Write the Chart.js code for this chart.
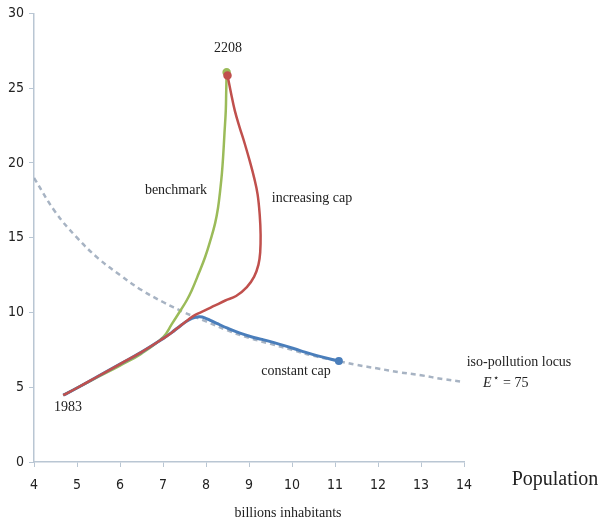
<!DOCTYPE html>
<html>
<head>
<meta charset="utf-8">
<script src="https://cdn.jsdelivr.net/npm/chart.js@4"></script>
<style>
  html, body { margin: 0; padding: 0; background: #fff; }
  #wrap { width: 603px; height: 521px; position: relative; }
</style>
</head>
<body>
<div id="wrap"><canvas id="grafica"></canvas></div>
<script>
// population (billions) on x, values on y
const benchX = [4.68, 5.0, 5.5, 6.0, 6.5, 7.01, 7.2, 7.41, 7.55, 7.67, 7.83, 7.98, 8.1, 8.21, 8.28, 8.33, 8.37, 8.4, 8.43, 8.46, 8.47, 8.48];
const benchY = [4.47, 4.95, 5.7, 6.45, 7.25, 8.37, 9.2, 10.15, 10.8, 11.49, 12.6, 13.71, 14.8, 15.94, 17.0, 18.17, 19.3, 20.5, 22.0, 23.5, 24.8, 26.07];

const incX = [4.68, 5.0, 5.5, 6.0, 6.5, 7.0, 7.2, 7.4, 7.58, 7.74, 7.95, 8.2, 8.45, 8.7, 8.95, 9.12, 9.22, 9.26, 9.27, 9.25, 9.2, 9.12, 9.02, 8.9, 8.78, 8.67, 8.58, 8.5];
const incY = [4.47, 4.95, 5.75, 6.55, 7.35, 8.25, 8.65, 9.1, 9.5, 9.82, 10.1, 10.45, 10.8, 11.1, 11.7, 12.4, 13.2, 14.0, 15.2, 16.5, 17.9, 19.0, 20.1, 21.3, 22.4, 23.5, 24.7, 25.85];

const constX = [4.68, 5.0, 5.5, 6.0, 6.5, 7.0, 7.2, 7.4, 7.6, 7.75, 7.86, 7.97, 8.1, 8.25, 8.5, 8.79, 9.05, 9.3, 9.8, 10.19, 10.6, 11.09];
const constY = [4.47, 4.95, 5.75, 6.55, 7.35, 8.25, 8.65, 9.1, 9.5, 9.68, 9.71, 9.64, 9.47, 9.27, 8.95, 8.62, 8.38, 8.2, 7.8, 7.45, 7.1, 6.75];

// iso-pollution locus E* = 75
const isoX = [4, 4.5, 5, 5.5, 6, 6.5, 7, 7.5, 8, 8.5, 9, 9.5, 10, 10.5, 11, 11.5, 12, 12.5, 13, 13.5, 14];
const isoY = [19, 16.7, 15, 13.6, 12.5, 11.5, 10.7, 10, 9.4, 8.8, 8.3, 7.9, 7.5, 7.1, 6.8, 6.5, 6.25, 6, 5.8, 5.55, 5.35];

const xTicks = [4, 5, 6, 7, 8, 9, 10, 11, 12, 13, 14];
const yTicks = [0, 5, 10, 15, 20, 25, 30];

const pts = (xs, ys) => xs.map((x, i) => ({ x: x, y: ys[i] }));
const endDot = r => ctx => ctx.dataIndex === ctx.dataset.data.length - 1 ? r : 0;

const serif = '"Liberation Serif", "DejaVu Serif", serif';
const tickFont = { family: '"DejaVu Sans Condensed", "Liberation Sans Narrow", sans-serif', size: 14 };

const etiquetas = {
  id: 'etiquetas',
  afterDraw(chart) {
    const c = chart.ctx;
    c.save();
    c.fillStyle = '#222';
    c.textAlign = 'center';
    c.textBaseline = 'middle';
    c.font = '14px ' + serif;
    c.fillText('2208', 228, 48);
    c.fillText('benchmark', 176, 190);
    c.fillText('increasing cap', 312, 198);
    c.fillText('constant cap', 296, 371);
    c.fillText('1983', 68, 407);
    c.fillText('iso-pollution locus', 519, 362);
    c.fillText('billions inhabitants', 288, 513);
    // E* = 75
    c.textAlign = 'left';
    c.font = 'italic 14px ' + serif;
    c.fillText('E', 483, 383);
    c.font = '10px ' + serif;
    c.fillText('\u22C6', 493, 378);
    c.font = '14px ' + serif;
    c.fillText('= 75', 503, 383);
    c.textAlign = 'center';
    c.font = '20px ' + serif;
    c.fillText('Population', 555, 480);
    c.restore();
  }
};

new Chart(document.querySelector('#grafica'), {
  type: 'scatter',
  data: {
    datasets: [
      {
        label: 'increasing cap', data: pts(incX, incY), showLine: true, tension: 0.4,
        borderColor: '#c0504d', backgroundColor: '#c0504d', borderWidth: 2.5,
        pointRadius: endDot(3), pointHoverRadius: 0, order: 1
      },
      {
        label: 'constant cap', data: pts(constX, constY), showLine: true, tension: 0.4,
        borderColor: '#4a7ebb', backgroundColor: '#4a7ebb', borderWidth: 3,
        pointRadius: endDot(2.5), pointHoverRadius: 0, order: 2
      },
      {
        label: 'benchmark', data: pts(benchX, benchY), showLine: true, tension: 0.4,
        borderColor: '#9bbb59', backgroundColor: '#9bbb59', borderWidth: 2.5,
        pointRadius: endDot(3), pointHoverRadius: 0, order: 3
      },
      {
        label: 'iso-pollution locus', data: pts(isoX, isoY), showLine: true, tension: 0.4,
        borderColor: 'rgba(145,160,180,0.8)', borderWidth: 2.5, borderDash: [5, 4],
        pointRadius: 0, order: 4
      }
    ]
  },
  options: {
    responsive: true,
    maintainAspectRatio: false,
    animation: false,
    layout: { padding: { top: 13, right: 139, bottom: 0, left: 0 } },
    plugins: { legend: { display: false }, tooltip: { enabled: false } },
    scales: {
      x: {
        type: 'linear', min: 4, max: 14,
        afterBuildTicks: s => { s.ticks = xTicks.map(v => ({ value: v })); },
        afterFit: s => { s.height = 59; },
        grid: { drawOnChartArea: false, tickLength: 5, color: '#b9c6d3' },
        border: { color: '#b9c6d3', width: 1.5 },
        ticks: { padding: 10, color: '#222', font: tickFont }
      },
      y: {
        min: 0, max: 30,
        afterBuildTicks: s => { s.ticks = yTicks.map(v => ({ value: v })); },
        afterFit: s => { s.width = 34; },
        grid: { drawOnChartArea: false, tickLength: 5, color: '#b9c6d3' },
        border: { color: '#b9c6d3', width: 1.5 },
        ticks: { padding: 5, color: '#222', font: tickFont }
      }
    }
  },
  plugins: [etiquetas]
});
</script>
</body>
</html>
